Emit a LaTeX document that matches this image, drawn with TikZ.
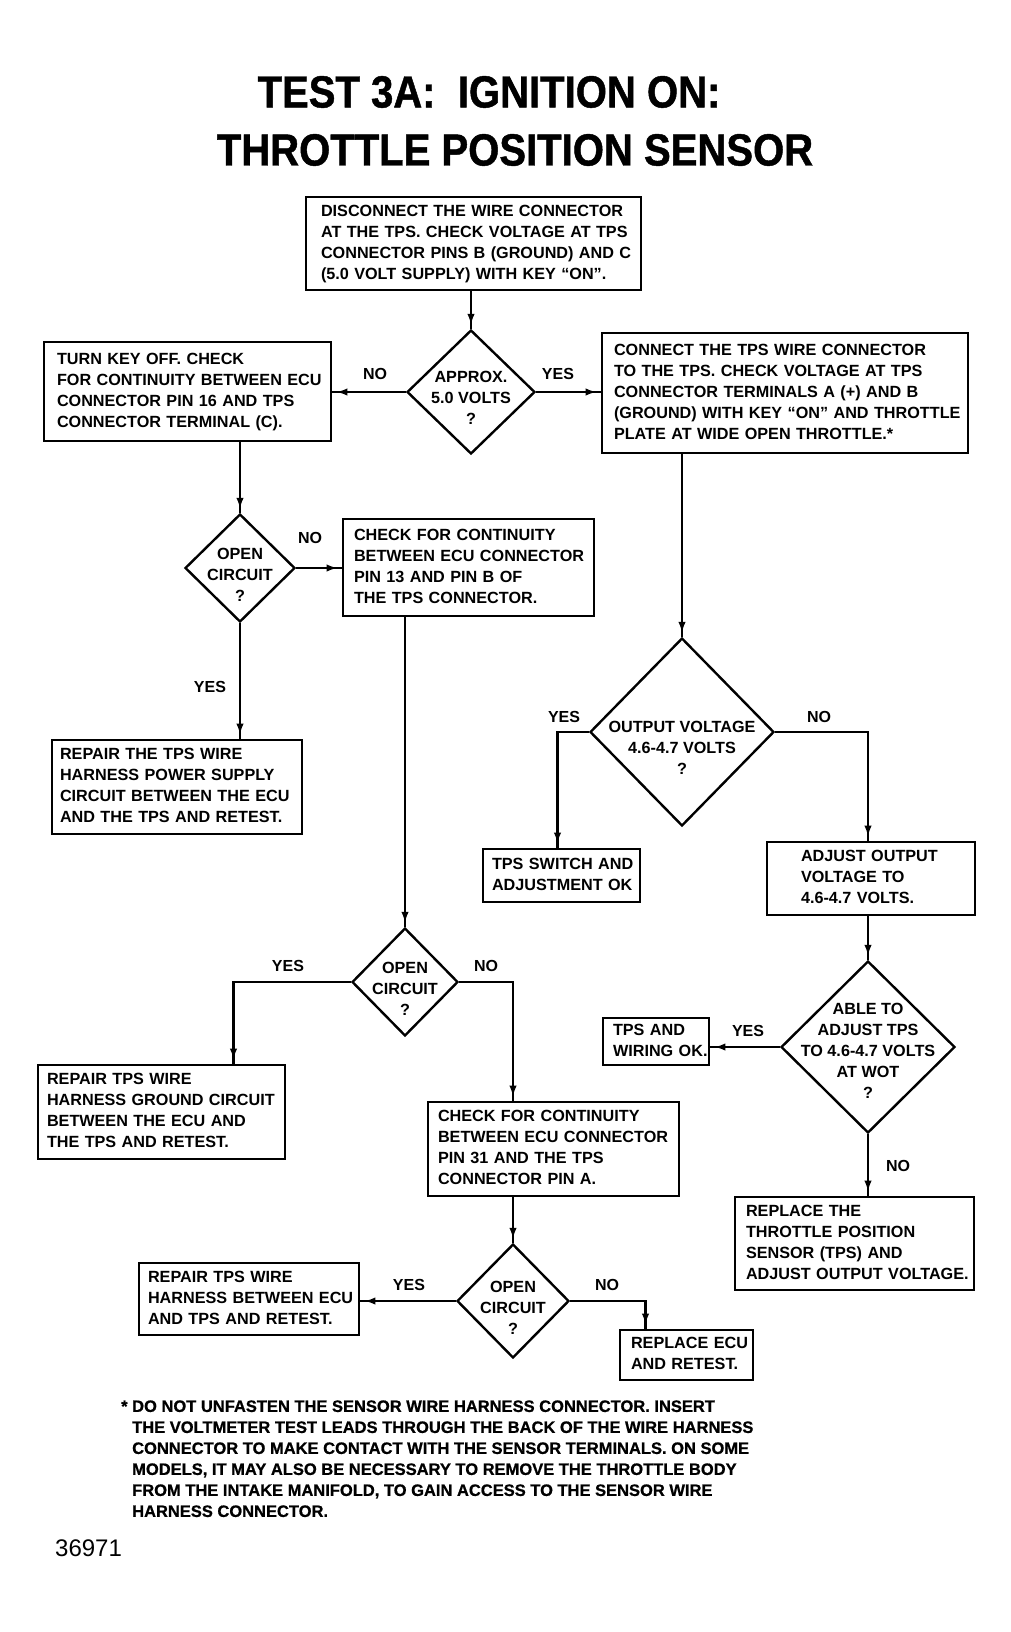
\documentclass[tikz,border=0pt]{standalone}
\usepackage{fontspec}
\setmainfont{Liberation Sans}
\newfontfamily\titlefont[FakeStretch=0.89,FakeBold=1]{Liberation Sans}
\newfontfamily\heavyfont[FakeBold=0.8]{Liberation Sans}
\usetikzlibrary{shapes.geometric,arrows.meta,decorations.markings}
\newcommand\boxlines[1]{\begin{tabular}{@{}l@{}}#1\end{tabular}}
\newcommand\dialines[2]{\makebox[0pt]{\raisebox{#1}{\begin{tabular}{@{}c@{}}#2\end{tabular}}}}
\tikzset{
  box/.style={draw, line width=2.9pt, rectangle, inner ysep=0pt, align=left,
    font=\fontsize{16.2}{21}\selectfont\bfseries},
  dia/.style={draw, diamond, line width=2.4pt, inner sep=0pt, text height=0pt, text depth=0pt,
    font=\fontsize{16.2}{21}\selectfont\bfseries},
  lbl/.style={font=\fontsize{16}{19}\selectfont\bfseries, inner sep=0pt},
  arr/.style={line width=2.4pt, postaction={decorate},
    decoration={markings, mark=at position -4pt with {\arrow{Latex[length=11pt,width=7.5pt]}}}},
  ttl/.style={font=\titlefont\fontsize{45}{50}\selectfont\bfseries, inner sep=0pt},
}
\begin{document}
\begin{tikzpicture}[x=1pt,y=-1pt]
\fill[white] (0,0) rectangle (1011,1632);
\useasboundingbox (0,0) rectangle (1011,1632);

% title
\node[ttl] (t1) at (489,92) {TEST 3A:\ \ IGNITION ON:};
\node[ttl] (t2) at (515,150) {THROTTLE POSITION SENSOR};

% boxes
\node[box, text width=305pt, inner xsep=15pt, minimum height=93pt] (b1) at (473.5,243.5)
  {\boxlines{DISCONNECT THE WIRE CONNECTOR\\AT THE TPS. CHECK VOLTAGE AT TPS\\CONNECTOR PINS B (GROUND) AND C\\(5.0 VOLT SUPPLY) WITH KEY “ON”.}};
\node[box, text width=261pt, inner xsep=13pt, minimum height=99pt] (b2) at (187.5,391.5)
  {\boxlines{TURN KEY OFF. CHECK\\FOR CONTINUITY BETWEEN ECU\\CONNECTOR PIN 16 AND TPS\\CONNECTOR TERMINAL (C).}};
\node[box, text width=342pt, inner xsep=12pt, minimum height=120pt] (br) at (785,393)
  {\boxlines{CONNECT THE TPS WIRE CONNECTOR\\TO THE TPS. CHECK VOLTAGE AT TPS\\CONNECTOR TERMINALS A (+) AND B\\(GROUND) WITH KEY “ON” AND THROTTLE\\PLATE AT WIDE OPEN THROTTLE.*}};
\node[box, text width=229pt, inner xsep=11pt, minimum height=97pt] (b3) at (468.5,567.5)
  {\boxlines{CHECK FOR CONTINUITY\\BETWEEN ECU CONNECTOR\\PIN 13 AND PIN B OF\\THE TPS CONNECTOR.}};
\node[box, text width=234pt, inner xsep=8pt, minimum height=94pt] (b4) at (177,787)
  {\boxlines{REPAIR THE TPS WIRE\\HARNESS POWER SUPPLY\\CIRCUIT BETWEEN THE ECU\\AND THE TPS AND RETEST.}};
\node[box, text width=139pt, inner xsep=9pt, minimum height=53pt] (b5) at (561.5,875.5)
  {\boxlines{TPS SWITCH AND\\ADJUSTMENT OK}};
\node[box, text width=140pt, inner xsep=34pt, minimum height=73pt] (b6) at (871,878.5)
  {\boxlines{ADJUST OUTPUT\\VOLTAGE TO\\4.6-4.7 VOLTS.}};
\node[box, text width=229pt, inner xsep=9pt, minimum height=94pt] (b7) at (161.5,1112)
  {\boxlines{REPAIR TPS WIRE\\HARNESS GROUND CIRCUIT\\BETWEEN THE ECU AND\\THE TPS AND RETEST.}};
\node[box, text width=231pt, inner xsep=10pt, minimum height=94pt] (b8) at (553.5,1149)
  {\boxlines{CHECK FOR CONTINUITY\\BETWEEN ECU CONNECTOR\\PIN 31 AND THE TPS\\CONNECTOR PIN A.}};
\node[box, text width=202pt, inner xsep=9pt, minimum height=72pt] (b9) at (249,1299)
  {\boxlines{REPAIR TPS WIRE\\HARNESS BETWEEN ECU\\AND TPS AND RETEST.}};
\node[box, text width=111pt, inner xsep=11pt, minimum height=50pt] (b10) at (686.5,1355)
  {\boxlines{REPLACE ECU\\AND RETEST.}};
\node[box, text width=86pt, inner xsep=10pt, minimum height=47pt] (b11) at (656,1041.5)
  {\boxlines{TPS AND\\WIRING OK.}};
\node[box, text width=217pt, inner xsep=11pt, minimum height=93pt] (b12) at (854.5,1243.5)
  {\boxlines{REPLACE THE\\THROTTLE POSITION\\SENSOR (TPS) AND\\ADJUST OUTPUT VOLTAGE.}};

% diamonds
\node[dia, minimum width=128pt, minimum height=124pt] (d1) at (471,392)
  {\dialines{-12pt}{APPROX.\\5.0 VOLTS\\?}};
\node[dia, minimum width=110pt, minimum height=108pt] (d2) at (240,568)
  {\dialines{-13pt}{OPEN\\CIRCUIT\\?}};
\node[dia, minimum width=184pt, minimum height=188pt] (d3) at (682,732)
  {\dialines{-22pt}{OUTPUT VOLTAGE\\4.6-4.7 VOLTS\\?}};
\node[dia, minimum width=106pt, minimum height=108pt] (d5) at (405,982)
  {\dialines{-13pt}{OPEN\\CIRCUIT\\?}};
\node[dia, minimum width=174pt, minimum height=172pt] (d6) at (868,1047)
  {\dialines{-10pt}{ABLE TO\\ADJUST TPS\\TO 4.6-4.7 VOLTS\\AT WOT\\?}};
\node[dia, minimum width=112pt, minimum height=114pt] (d7) at (513,1301)
  {\dialines{-13pt}{OPEN\\CIRCUIT\\?}};

% labels
\node[lbl] (l1) at (375,374) {NO};
\node[lbl] (l2) at (558,374) {YES};
\node[lbl] (l3) at (310,538) {NO};
\node[lbl] (l4) at (210,687) {YES};
\node[lbl] (l5) at (564,717) {YES};
\node[lbl] (l6) at (819,717) {NO};
\node[lbl] (l7) at (288,966) {YES};
\node[lbl] (l8) at (486,966) {NO};
\node[lbl] (l9) at (409,1285) {YES};
\node[lbl] (l10) at (607,1285) {NO};
\node[lbl] (l11) at (748,1031) {YES};
\node[lbl] (l12) at (898,1166) {NO};

% connectors
\draw[arr] (d1.north |- b1.south) -- (d1.north);
\draw[arr] (d1.west) -- (d1.west -| b2.east);
\draw[arr] (d1.east) -- (d1.east -| br.west);
\draw[arr] (d2.north |- b2.south) -- (d2.north);
\draw[arr] (d2.east) -- (d2.east -| b3.west);
\draw[arr] (d2.south) -- (d2.south |- b4.north);
\draw[arr] (d3.north |- br.south) -- (d3.north);
\draw[arr] (d3.west) -| ([xshift=-4pt]b5.north);
\draw[arr] (d3.east) -| (d6.north |- b6.north);
\draw[arr] (d6.north |- b6.south) -- (d6.north);
\draw[arr] (d5.north |- b3.south) -- (d5.north);
\draw[arr] (d5.west) -| ([xshift=72pt]b7.north);
\draw[arr] (d5.east) -| (d7.north |- b8.north);
\draw[arr] (d7.north |- b8.south) -- (d7.north);
\draw[arr] (d7.west) -- (d7.west -| b9.east);
\draw[arr] (d7.east) -| ([xshift=-41pt]b10.north);
\draw[arr] (d6.west) -- (d6.west -| b11.east);
\draw[arr] (d6.south) -- (d6.south |- b12.north);

% footnote
\node[anchor=north west, inner sep=0pt, font=\heavyfont\fontsize{16.5}{21}\selectfont\bfseries] (fn) at (132,1397)
  {\boxlines{\llap{*\ }DO NOT UNFASTEN THE SENSOR WIRE HARNESS CONNECTOR. INSERT\\THE VOLTMETER TEST LEADS THROUGH THE BACK OF THE WIRE HARNESS\\CONNECTOR TO MAKE CONTACT WITH THE SENSOR TERMINALS. ON SOME\\MODELS, IT MAY ALSO BE NECESSARY TO REMOVE THE THROTTLE BODY\\FROM THE INTAKE MANIFOLD, TO GAIN ACCESS TO THE SENSOR WIRE\\HARNESS CONNECTOR.}};
\node[anchor=west, inner sep=0pt, font=\fontsize{24}{28}\selectfont] (num) at (55,1548) {36971};
\end{tikzpicture}
\end{document}
